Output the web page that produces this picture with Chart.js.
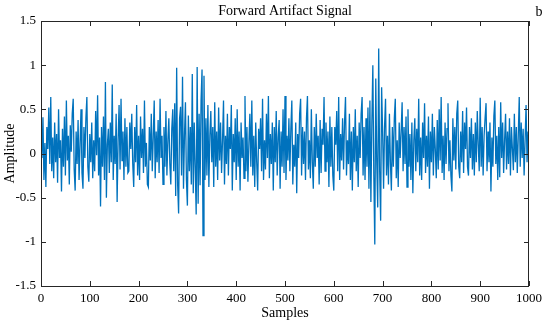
<!DOCTYPE html>
<html lang="en">
<head>
    <meta charset="UTF-8">
    <title>Forward Artifact Signal</title>
    <script src="https://cdn.jsdelivr.net/npm/chart.js"></script>
    <style>
        body, html {
            margin: 0;
            padding: 0;
            background: #fff;
            overflow: hidden;
        }
        #wrap {
            width: 548px;
            height: 320px;
        }
    </style>
</head>
<body>
    <div id="wrap"><canvas id="signalChart"></canvas></div>

    <script>
        // one value every 2 samples (0 .. 1000)
        const sampleStep = 2;
        const amplitude = [
            0.25, -0.05, 0.41, -0.30, 0.12, -0.38, 0.30, 0.05, 0.52, -0.12,
            0.64, -0.20, 0.18, -0.28, 0.35, -0.10, 0.22, -0.33, 0.50, -0.05,
            0.15, -0.43, 0.28, -0.15, 0.42, -0.25, 0.60, -0.08, 0.20, -0.35,
            0.32, 0.02, 0.45, 0.62, -0.18, -0.42, 0.25, -0.12, 0.38, -0.30,
            0.10, 0.50, -0.22, -0.40, 0.30, -0.05, 0.40, 0.64, -0.15, -0.32,
            0.22, -0.10, 0.35, -0.28, 0.15, -0.20, 0.48, -0.02, 0.66, -0.25,
            0.18, -0.60, 0.30, -0.15, 0.42, -0.30, 0.81, -0.50, 0.10, 0.28,
            -0.22, 0.35, -0.10, 0.78, -0.30, 0.20, -0.12, 0.45, -0.55, 0.15,
            0.55, -0.18, 0.62, -0.08, 0.25, -0.30, 0.40, -0.15, 0.30, -0.22,
            -0.20, 0.35, 0.05, 0.45, -0.12, -0.38, 0.30, -0.10, 0.55, -0.25,
            0.20, -0.30, 0.42, -0.05, 0.28, -0.22, 0.60, -0.15, 0.12, -0.35,
            -0.38, 0.30, -0.08, 0.45, -0.20, 0.18, 0.60, -0.28, 0.25, -0.10,
            0.38, -0.22, 0.62, -0.05, 0.20, -0.35, 0.30, -0.15, 0.48, -0.25,
            0.15, 0.40, -0.12, -0.35, 0.28, 0.50, -0.20, 0.57, -0.48, 0.97,
            -0.35, -0.68, 0.40, 0.53, -0.25, 0.87, -0.40, 0.20, 0.58, -0.30,
            -0.59, 0.43, -0.20, 0.30, -0.35, 0.90, -0.45, 0.35, -0.15, -0.69,
            0.98, -0.57, 0.45, -0.36, 0.60, 0.95, -0.93, 0.88, -0.30, 0.40,
            -0.25, 0.55, -0.38, 0.20, 0.48, -0.10, 0.30, -0.38, 0.58, -0.15,
            0.25, -0.30, 0.52, -0.08, 0.35, -0.22, 0.15, 0.60, -0.35, 0.20,
            -0.12, 0.45, -0.25, 0.30, 0.05, 0.55, -0.42, 0.22, -0.10, 0.40,
            -0.30, 0.50, -0.15, 0.25, -0.42, 0.35, -0.05, 0.18, -0.28, 0.65,
            -0.20, 0.30, -0.32, 0.12, 0.45, -0.15, 0.60, -0.25, 0.20, -0.38,
            0.35, -0.10, -0.42, 0.28, 0.05, 0.40, -0.20, 0.62, -0.30, 0.15,
            -0.18, 0.45, -0.05, 0.65, -0.28, 0.22, -0.12, 0.35, -0.42, 0.30,
            -0.10, 0.48, -0.25, 0.18, 0.38, -0.40, 0.25, -0.15, 0.50, -0.22,
            0.65, -0.30, 0.20, -0.08, 0.40, -0.20, 0.28, 0.60, -0.35, 0.10,
            -0.15, 0.35, -0.45, 0.22, -0.05, 0.45, 0.62, -0.25, 0.30, -0.12,
            0.25, -0.30, 0.40, 0.65, -0.18, 0.15, -0.28, 0.50, -0.10, -0.40,
            0.30, -0.15, 0.45, -0.05, 0.20, -0.35, 0.38, -0.22, 0.28, 0.10,
            0.64, -0.20, 0.35, -0.10, 0.25, -0.38, 0.42, -0.15, 0.30, -0.25,
            -0.42, 0.30, 0.10, 0.48, -0.20, 0.64, -0.30, 0.22, -0.08, 0.40,
            -0.18, 0.35, 0.64, -0.25, 0.15, -0.12, 0.45, -0.30, 0.25, -0.42,
            0.30, -0.10, 0.50, -0.20, 0.20, -0.38, 0.35, -0.05, 0.45, 0.64,
            -0.25, 0.30, -0.30, 0.40, -0.15, 0.52, -0.40, 0.60, -0.55, 0.35,
            1.00, -0.25, -1.03, 0.85, -0.10, -0.61, 1.19, -0.20, -0.76, 0.75,
            0.25, -0.40, 0.30, 0.62, -0.25, 0.20, -0.35, 0.45, -0.10, -0.42,
            0.30, -0.15, 0.40, 0.62, -0.28, 0.15, -0.38, 0.35, -0.05, 0.25,
            0.58, -0.20, 0.30, -0.12, 0.42, -0.38, 0.50, -0.15, 0.22, -0.30,
            0.35, -0.45, 0.15, 0.40, -0.20, 0.28, -0.10, 0.62, -0.25, 0.18,
            -0.30, 0.35, -0.05, 0.57, -0.22, 0.20, -0.15, 0.42, -0.40, 0.25,
            -0.10, 0.45, -0.25, 0.30, 0.05, -0.28, 0.38, -0.18, 0.50, -0.08,
            0.64, -0.22, 0.20, -0.30, 0.35, -0.12, 0.28, 0.57, -0.20, 0.15,
            -0.25, -0.43, 0.40, -0.08, 0.30, -0.18, 0.45, 0.60, -0.15, -0.28,
            0.25, -0.10, 0.48, -0.22, 0.35, 0.05, 0.52, -0.15, -0.25, 0.30,
            -0.05, 0.40, -0.18, 0.22, -0.25, 0.35, -0.10, 0.48, 0.10, -0.20,
            0.63, -0.15, 0.30, -0.25, 0.20, 0.40, 0.57, -0.20, 0.25, -0.10,
            0.35, -0.43, 0.18, -0.15, 0.42, 0.60, -0.12, 0.20, -0.30, 0.30,
            -0.27, 0.58, -0.05, 0.35, -0.22, 0.15, 0.45, -0.18, 0.25, -0.12,
            0.40, -0.25, 0.30, 0.05, -0.19, 0.45, -0.10, 0.30, -0.22, 0.20,
            0.64, -0.15, 0.35, -0.05, 0.28, -0.25, 0.15, 0.55, -0.10, 0.25,
            0.05
        ];
        const xTicks = [0, 100, 200, 300, 400, 500, 600, 700, 800, 900, 1000];
        const yTicks = [-1.5, -1, -0.5, 0, 0.5, 1, 1.5];

        const serif = '"Liberation Serif", "Times New Roman", serif';
        const axisColor = '#262626';

        // matlab style box with inward ticks, plus title and panel letter
        const boxPlugin = {
            id: 'box',
            afterDraw(chart) {
                const { ctx, chartArea: a, scales } = chart;
                ctx.save();
                ctx.strokeStyle = axisColor;
                ctx.lineWidth = 1;
                ctx.strokeRect(a.left + 0.5, a.top + 0.5, a.right - a.left - 1, a.bottom - a.top);
                ctx.beginPath();
                const tl = 5;
                xTicks.forEach(v => {
                    const x = Math.round(scales.x.getPixelForValue(v)) + 0.5;
                    ctx.moveTo(x, a.bottom); ctx.lineTo(x, a.bottom - tl);
                    ctx.moveTo(x, a.top); ctx.lineTo(x, a.top + tl);
                });
                yTicks.forEach(v => {
                    const y = Math.round(scales.y.getPixelForValue(v)) + 0.5;
                    ctx.moveTo(a.left, y); ctx.lineTo(a.left + tl, y);
                    ctx.moveTo(a.right, y); ctx.lineTo(a.right - tl, y);
                });
                ctx.stroke();
                ctx.fillStyle = '#000';
                ctx.font = '14px ' + serif;
                ctx.textBaseline = 'middle';
                ctx.textAlign = 'center';
                ctx.fillText('Forward Artifact Signal', (a.left + a.right) / 2, 11);
                ctx.fillText('b', 539, 12);
                ctx.restore();
            }
        };

        const ctx = document.getElementById('signalChart').getContext('2d');
        new Chart(ctx, {
            type: 'line',
            data: {
                datasets: [{
                    data: amplitude.map((v, i) => ({ x: i * sampleStep, y: v })),
                    borderColor: '#0072BD',
                    borderWidth: 1.3,
                    pointRadius: 0,
                    tension: 0,
                    fill: false
                }]
            },
            options: {
                responsive: true,
                maintainAspectRatio: false,
                animation: false,
                layout: { padding: { top: 21, right: 19, left: 0, bottom: 0 } },
                scales: {
                    x: {
                        type: 'linear',
                        min: 0,
                        max: 1000,
                        afterBuildTicks: s => { s.ticks = xTicks.map(v => ({ value: v })); },
                        afterFit: s => { s.height = 34; },
                        grid: { display: false, drawTicks: false },
                        border: { display: false },
                        ticks: { color: '#000', padding: 5, maxRotation: 0, callback: v => String(v), font: { family: serif, size: 13 } },
                        title: { display: true, text: 'Samples', color: '#000', padding: 0, font: { family: serif, size: 14, lineHeight: 1 } }
                    },
                    y: {
                        min: -1.5,
                        max: 1.5,
                        afterBuildTicks: s => { s.ticks = yTicks.map(v => ({ value: v })); },
                        afterFit: s => { s.width = 41; },
                        grid: { display: false, drawTicks: false },
                        border: { display: false },
                        ticks: { color: '#000', padding: 5, callback: v => String(v), font: { family: serif, size: 13 } },
                        title: { display: true, text: 'Amplitude', color: '#000', padding: { top: 3 }, font: { family: serif, size: 14, lineHeight: 1 } }
                    }
                },
                plugins: {
                    legend: { display: false },
                    tooltip: { enabled: false }
                }
            },
            plugins: [boxPlugin]
        });
    </script>
</body>
</html>
